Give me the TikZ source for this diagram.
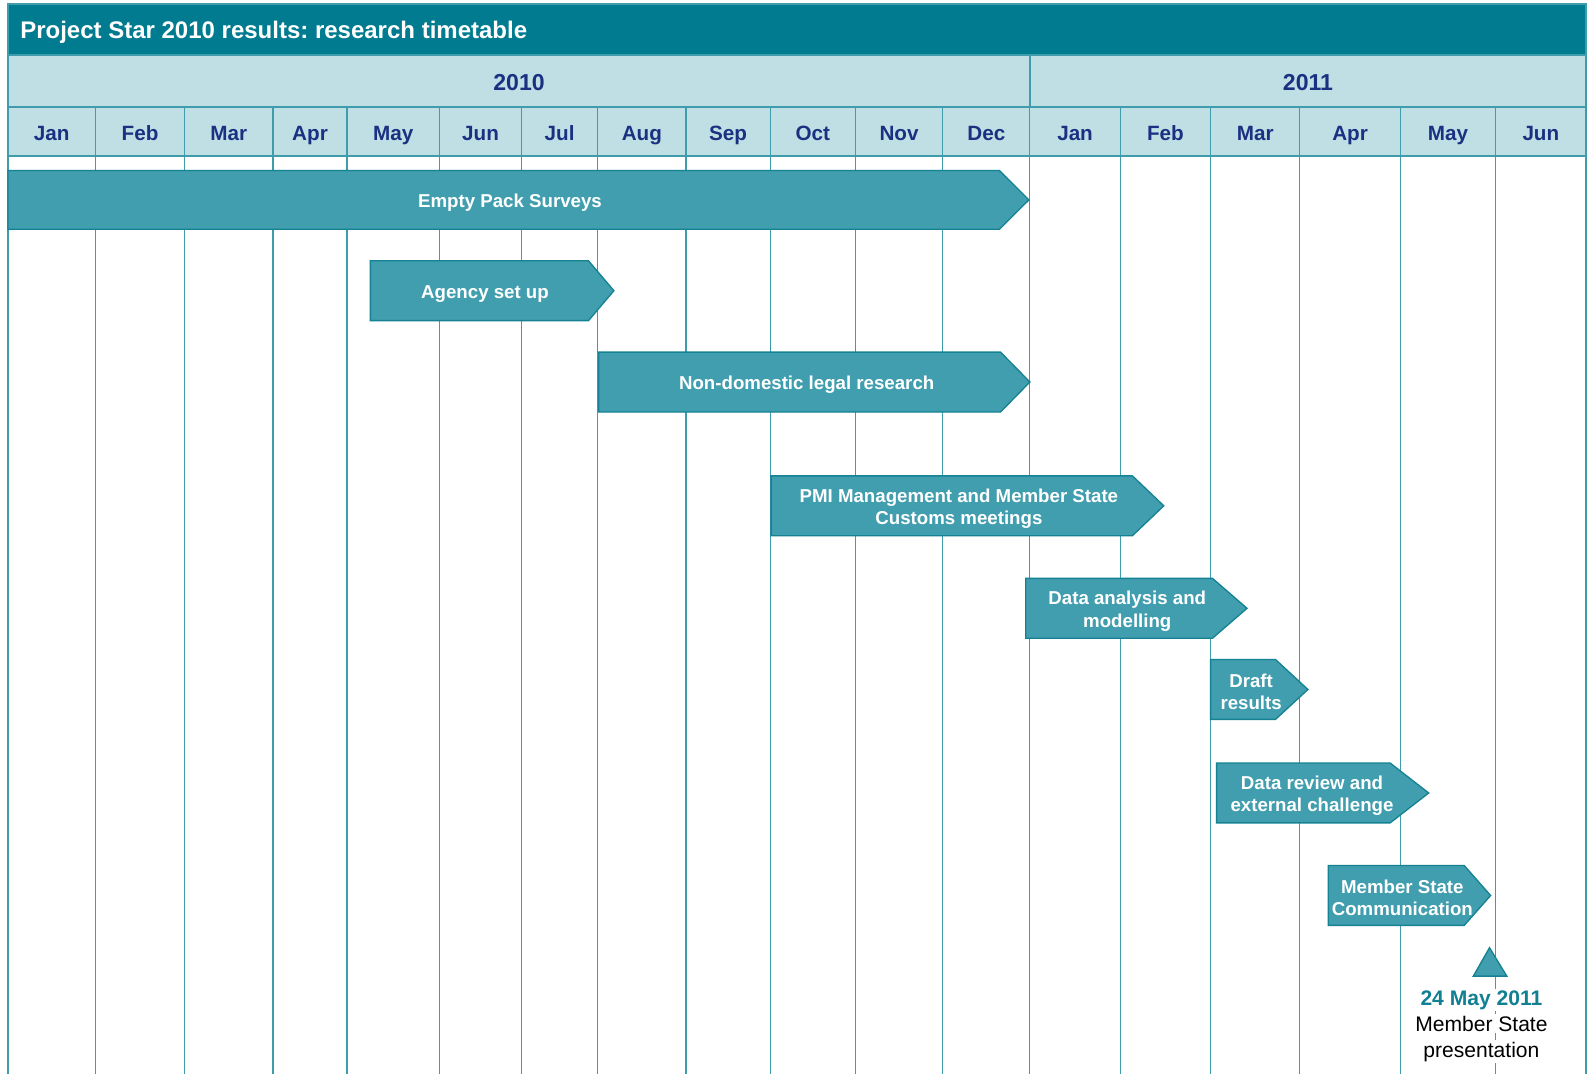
\documentclass[tikz,border=0pt]{standalone}
\usepackage{fontspec}
\setmainfont{Liberation Sans}
\frenchspacing
\definecolor{headteal}{RGB}{0,123,143}
\definecolor{barteal}{RGB}{65,158,174}
\definecolor{edgeteal}{RGB}{20,130,146}
\definecolor{gridteal}{RGB}{62,156,172}
\definecolor{paleteal}{RGB}{192,223,228}
\definecolor{monthblue}{RGB}{28,48,130}
\definecolor{dateteal}{RGB}{16,128,146}

\begin{document}
\begin{tikzpicture}[x=0.75pt, y=-0.75pt, line join=miter]
\tikzset{
  gridline/.style={draw=gridteal, line width=0.8pt},
  headcell/.style={fill=paleteal, draw=gridteal, line width=0.8pt},
  yearlabel/.style={text=monthblue, anchor=base, font=\bfseries\fontsize{17.3}{20}\selectfont},
  monthlabel/.style={text=monthblue, anchor=base, font=\bfseries\fontsize{15.5}{18}\selectfont},
  taskbar/.style={fill=barteal, draw=edgeteal, line width=1pt},
  tasklabel/.style={text=white, align=center, inner sep=0pt, font=\bfseries\fontsize{14}{16.7}\selectfont},
  notelabel/.style={fill=white, inner sep=1pt, anchor=base, font=\fontsize{15.8}{19.8}\selectfont}
}
\useasboundingbox (0,0) rectangle (1591,1074);

% title bar
\draw[fill=headteal, draw=gridteal, line width=0.8pt] (8,4) rectangle (1586,55);
\node[anchor=base west, text=white, inner sep=0pt, font=\bfseries\fontsize{18}{20}\selectfont] (title) at (20,39) {Project Star 2010 results: research timetable};

% years
\draw[headcell] (8,55) rectangle (1030,107);
\draw[headcell] (1030,55) rectangle (1586,107);
\node[yearlabel] (y2010) at (519,90.5) {2010};
\node[yearlabel] (y2011) at (1308,90.5) {2011};

% months and grid
\draw[gridline] (8,156) -- (8,1074);
\foreach \xa/\xb/\mon [count=\i] in {8/95.4/Jan, 95.4/184.7/Feb, 184.7/273/Mar, 273/347/Apr, 347/439.4/May, 439.4/521.6/Jun, 521.6/597.7/Jul, 597.7/686/Aug, 686/770.2/Sep, 770.2/855.4/Oct, 855.4/942.7/Nov, 942.7/1029.9/Dec, 1029.9/1120.2/Jan, 1120.2/1210.6/Feb, 1210.6/1299.8/Mar, 1299.8/1400.3/Apr, 1400.3/1495.7/May, 1495.7/1586/Jun}{
  \draw[headcell] (\xa,107) rectangle (\xb,156);
  \draw[gridline] (\xb,156) -- (\xb,1074);
  \node[monthlabel] (m\i) at ({(\xa+\xb)/2},140.5) {\mon};
}

% task bars
\draw[taskbar] (8,170.5) -- (999.4,170.5) -- (1028.9,199.9) -- (999.4,229.3) -- (8,229.3) -- cycle;
\node[tasklabel] (surveys) at (510,202.9) {Empty Pack Surveys};

\draw[taskbar] (370.4,260.8) -- (588.5,260.8) -- (613.9,290.7) -- (588.5,320.6) -- (370.4,320.6) -- cycle;
\node[tasklabel] (agency) at (485,293.7) {Agency set up};

\draw[taskbar] (598.7,352.1) -- (1000.5,352.1) -- (1029.9,382) -- (1000.5,412) -- (598.7,412) -- cycle;
\node[tasklabel] (legal) at (806.7,385) {Non-domestic legal research};

\draw[taskbar] (771.1,475.9) -- (1132.4,475.9) -- (1163.8,505.8) -- (1132.4,535.7) -- (771.1,535.7) -- cycle;
\node[tasklabel] (pmi) at (958.9,508.8) {PMI Management and Member State\\Customs meetings};

\draw[taskbar] (1025.8,578.4) -- (1212.5,578.4) -- (1247,608.3) -- (1212.5,638.2) -- (1025.8,638.2) -- cycle;
\node[tasklabel] (analysis) at (1127.3,611.3) {Data analysis and\\modelling};

\draw[taskbar] (1210.6,659.5) -- (1275.5,659.5) -- (1307.9,689.5) -- (1275.5,719.4) -- (1210.6,719.4) -- cycle;
\node[tasklabel] (draft) at (1251.1,691.5) {Draft\\results};

\draw[taskbar] (1216.6,763) -- (1390.1,763) -- (1428.7,793) -- (1390.1,822.9) -- (1216.6,822.9) -- cycle;
\node[tasklabel] (review) at (1312,796) {Data review and\\external challenge};

\draw[taskbar] (1328.2,865.5) -- (1464.2,865.5) -- (1490.6,895.5) -- (1464.2,925.4) -- (1328.2,925.4) -- cycle;
\node[tasklabel] (comms) at (1402.3,897.5) {Member State\\Communication};

% milestone
\draw[taskbar] (1473.3,976.1) -- (1489.5,947.7) -- (1506.8,976.1) -- cycle;
\node[notelabel, text=dateteal, font=\bfseries\fontsize{15.8}{19.8}\selectfont] (msdate) at (1481.4,1005) {24 May 2011};
\node[notelabel] (msline) at (1481.4,1031) {Member State};
\node[notelabel] (mspres) at (1481.4,1057) {presentation};
\end{tikzpicture}
\end{document}
